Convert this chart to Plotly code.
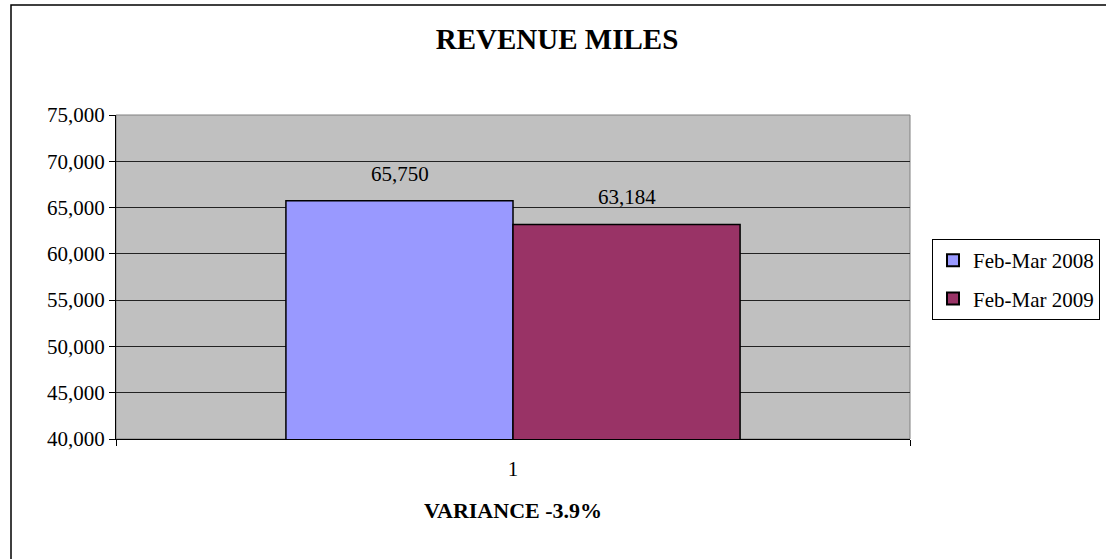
import plotly.graph_objects as go

periods = ["Feb-Mar 2008", "Feb-Mar 2009"]
miles = [65750, 63184]
category = ["1"]
bar_colors = ["#9999FF", "#993366"]
y_ticks = [40000, 45000, 50000, 55000, 60000, 65000, 70000, 75000]

serif = "Liberation Serif, Times New Roman, serif"

fig = go.Figure()
for name, val, col in zip(periods, miles, bar_colors):
    fig.add_trace(go.Bar(
        x=category, y=[val], name=name, legendgroup=name,
        marker=dict(color=col, line=dict(color="black", width=1.5)),
        cliponaxis=False,
    ))

# value labels above each bar (offset like Excel's data labels)
cat_pos = category.index(category[0])
for i, val in enumerate(miles):
    fig.add_annotation(x=cat_pos, y=val, text=f"{val:,}", showarrow=False,
                       xshift=(-1 if i == 0 else 1) * 113.5, yshift=13,
                       yanchor="bottom", font=dict(family=serif, size=21, color="black"))

fig.update_layout(
    width=1106, height=559,
    margin=dict(l=116, r=196, t=115, b=120),
    paper_bgcolor="white", plot_bgcolor="#C0C0C0",
    barmode="group", bargap=0.428, bargroupgap=0,
    font=dict(family=serif, size=21, color="black"),
    title=dict(text="<b>REVENUE MILES</b>", x=557 / 1106, xref="container", xanchor="center",
               y=1 - 39 / 559, yanchor="middle",
               font=dict(family=serif, size=29, color="black")),
    legend=dict(xref="container", yref="container", x=932 / 1106, y=1 - 239 / 559,
                xanchor="left", yanchor="top",
                bordercolor="black", borderwidth=1, bgcolor="white",
                font=dict(family=serif, size=21), itemsizing="constant",
                tracegroupgap=8),
    showlegend=True,
)

fig.update_xaxes(type="category", range=[-0.5, 0.5], tickson="boundaries",
                 ticks="outside", ticklen=6, ticklabelstandoff=11,
                 tickcolor="black", showline=True, linecolor="black", linewidth=1,
                 showgrid=False, tickfont=dict(family=serif, size=21),
                 title=dict(text="<b>VARIANCE -3.9%</b>", standoff=22,
                            font=dict(family=serif, size=22)))
fig.update_yaxes(range=[40000, 75000], tickvals=y_ticks, tickformat=",",
                 ticks="outside", ticklen=6, tickcolor="black",
                 showline=True, linecolor="black", linewidth=1,
                 showgrid=True, gridcolor="#222222", gridwidth=1,
                 tickfont=dict(family=serif, size=21), zeroline=False)

# plot-area border and outer chart frame
fig.add_shape(type="rect", xref="paper", yref="paper", x0=0, x1=1, y0=0, y1=1,
              line=dict(color="#808080", width=1), layer="below")
fig.add_shape(type="rect", xref="paper", yref="paper",
              x0=(11 - 116) / 794, x1=1.3, y0=-0.5, y1=(439 - 5) / 324,
              line=dict(color="black", width=1.5))

fig.write_html("out.html", config={"displayModeBar": False},
               post_script="document.body.style.margin='0';")
